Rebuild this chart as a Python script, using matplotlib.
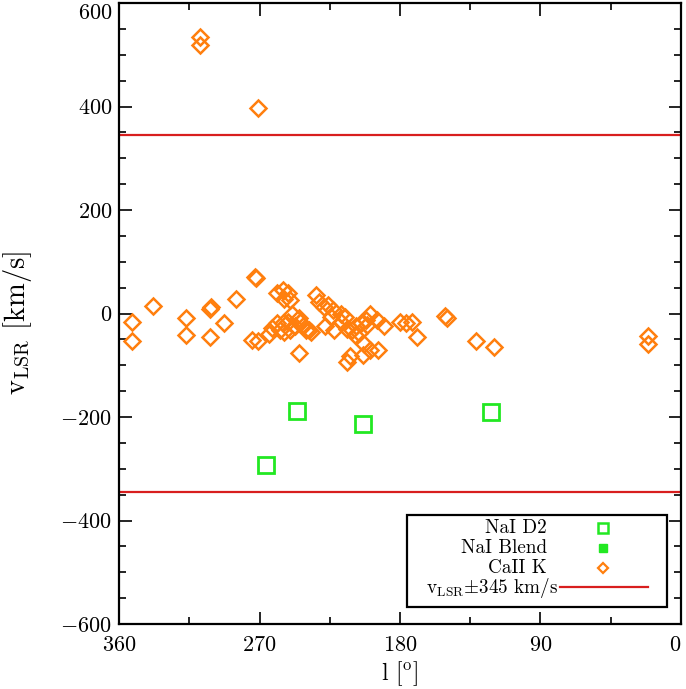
import matplotlib
matplotlib.use("Agg")
import matplotlib.pyplot as plt
from matplotlib.patches import Rectangle
from matplotlib.ticker import MultipleLocator

plt.rcParams['font.family'] = 'serif'
plt.rcParams['font.serif'] = ['cmr10', 'DejaVu Serif']
plt.rcParams['mathtext.fontset'] = 'cm'
plt.rcParams['axes.formatter.use_mathtext'] = True
plt.rcParams['axes.unicode_minus'] = True

# CaII K components (galactic longitude l [deg], v_LSR [km/s])
ca_l = [352, 352, 338, 317, 317, 302, 301, 302, 293, 285, 273, 272, 275, 271,
        308, 308, 271,
        259, 255, 251.5, 254, 250.5,
        259, 255, 251.5, 250.5, 247, 242, 238, 254, 257, 262, 264,
        249, 245, 244, 245,
        234, 232, 229, 226, 223, 218, 215, 224, 218, 228, 222, 240, 237,
        214, 211, 208, 205, 202, 201, 206, 209,
        199, 195, 190, 180, 176, 172, 169,
        203, 199, 194, 214, 204, 212,
        151, 150, 131, 120, 21, 21]
ca_v = [-16, -54, 14, -9, -42, 8, 12, -46, -18, 29, 71, 68, -51, -54,
        535, 519, 398,
        39, 45, 39, 29, 26,
        -19, -19, -16, -32, -25, -25, -32, -35, -32, -28, -40,
        0, -9, -16, -77,
        36, 23, 13, 16, 7, 0, -6, -6, -16, -25, -32, -32, -35,
        -29, -32, -25, -19, -13, -22, -38, -41,
        0, -13, -25, -16, -19, -16, -45,
        -58, -70, -70, -93, -80, -83,
        -5, -9, -53, -65, -44, -59]

# NaI D2 components
na_l = [246, 203.5, 121.7, 266]
na_v = [-188, -213.5, -190, -293]

# NaI blend components (none)
nab_l = []
nab_v = []

vlim = 345

orange = '#FF7F0E'
green = '#22E822'
red = '#D81E1E'

fig = plt.figure(figsize=(6.86, 6.89), dpi=100)
ax = fig.add_axes([0.1735, 0.0943, 0.8192, 0.9013])

ax.axhline(vlim, color=red, lw=1.6, zorder=1)
ax.axhline(-vlim, color=red, lw=1.6, zorder=1)

ax.plot(ca_l, ca_v, ls='none', marker='D', ms=8.5, mfc='none', mec=orange, mew=1.8, zorder=3)
ax.plot(na_l, na_v, ls='none', marker='s', ms=12, mfc='none', mec=green, mew=2.0, zorder=3)
ax.plot(nab_l, nab_v, ls='none', marker='s', ms=8, mfc=green, mec=green, zorder=3)

ax.set_xlim(360, 0)
ax.set_ylim(-600, 600)
ax.xaxis.set_major_locator(MultipleLocator(90))
ax.xaxis.set_minor_locator(MultipleLocator(45))
ax.yaxis.set_major_locator(MultipleLocator(200))
ax.yaxis.set_minor_locator(MultipleLocator(50))
ax.tick_params(which='both', direction='in', top=True, right=True, width=1.2)
ax.tick_params(which='major', length=9, labelsize=16)
ax.tick_params(axis='y', which='major', pad=5)
ax.tick_params(axis='x', which='major', pad=8)
ax.tick_params(which='minor', length=5)
for s in ax.spines.values():
    s.set_linewidth(1.6)

ax.set_xlabel(r'l [$^{\rm o}$]', fontsize=17, labelpad=3)
ax.set_ylabel(r'v$_{\rm LSR}$ [km/s]', fontsize=20.5)
ax.yaxis.set_label_coords(-0.152, 0.485)

fig.canvas.draw()
for t in ax.get_yticklabels():
    if t.get_position()[1] == 600:
        t.set_va('top')
for t in ax.get_xticklabels():
    if t.get_position()[0] == 0:
        t.set_ha('right')

# legend (IDL style)
tr = ax.transAxes
ax.add_patch(Rectangle((0.513, 0.028), 0.4615, 0.1475, transform=tr,
                       fill=True, facecolor='white', edgecolor='black', lw=1.6, zorder=5))
rows = [0.1546, 0.1224, 0.0902, 0.0596]
fs = 13.8
ax.text(0.761, rows[0], 'NaI D2', transform=tr, ha='right', va='center', fontsize=fs, zorder=6)
ax.text(0.761, rows[1], 'NaI Blend', transform=tr, ha='right', va='center', fontsize=fs, zorder=6)
ax.text(0.761, rows[2], 'CaII K', transform=tr, ha='right', va='center', fontsize=fs, zorder=6)
ax.text(0.782, rows[3] - 0.002, r'v$_{\rm LSR}$$\pm$345 km/s', transform=tr, ha='right', va='center', fontsize=fs, zorder=6)
ax.plot([0.861], [rows[0]], transform=tr, marker='s', ms=7, mfc='none', mec=green, mew=1.8, ls='none', zorder=6)
ax.plot([0.861], [rows[1]], transform=tr, marker='s', ms=6, mfc=green, mec=green, ls='none', zorder=6)
ax.plot([0.861], [rows[2]], transform=tr, marker='D', ms=5.5, mfc='none', mec=orange, mew=1.6, ls='none', zorder=6)
ax.plot([0.785, 0.941], [rows[3], rows[3]], transform=tr, color=red, lw=1.6, zorder=6)

fig.savefig('out.png', dpi=100)
